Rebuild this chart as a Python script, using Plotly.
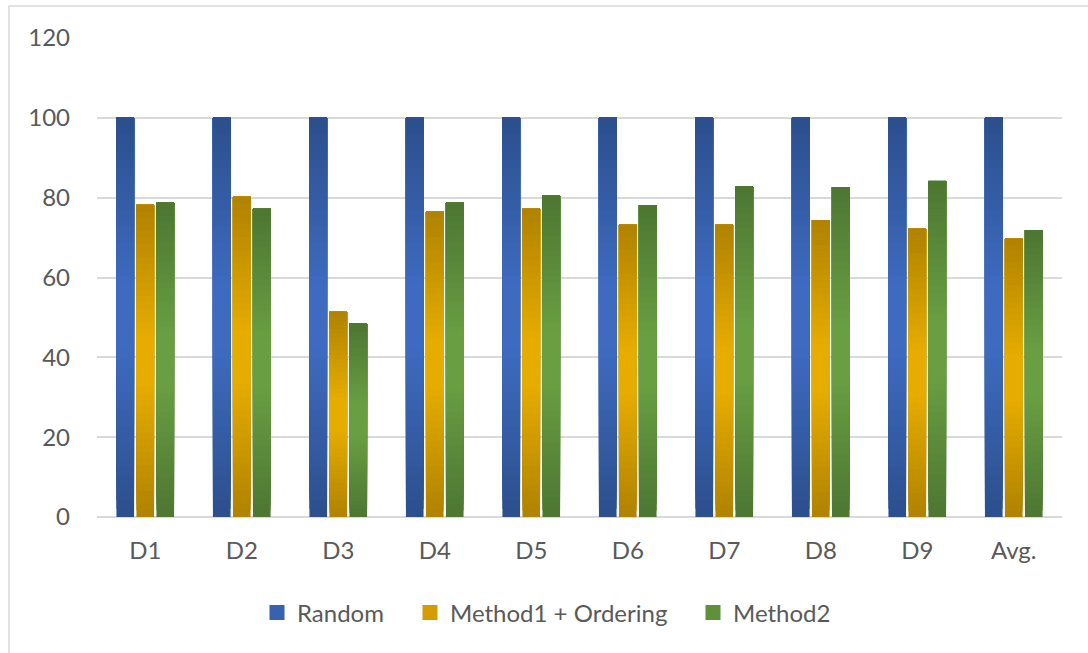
import plotly.graph_objects as go

# Data
categories = ["D1", "D2", "D3", "D4", "D5", "D6", "D7", "D8", "D9", "Avg."]
random_vals = [100, 100, 100, 100, 100, 100, 100, 100, 100, 100]
method1_ordering = [78.2, 80.2, 51.4, 76.5, 77.2, 73.2, 73.2, 74.4, 72.2, 69.7]
method2 = [78.7, 77.2, 48.4, 78.7, 80.5, 78.1, 82.8, 82.6, 84.2, 71.9]
y_ticks = [0, 20, 40, 60, 80, 100, 120]

series = [
    ("Random", random_vals, "#2C4F8C", "#3E6BC0"),
    ("Method1 + Ordering", method1_ordering, "#AF8200", "#E6AC00"),
    ("Method2", method2, "#4D7632", "#699F42"),
]

# left edge (px) of each legend entry, one legend box per series
legend_left_px = [257, 410, 693]

N_STEPS = 48  # vertical shading slices per bar

PLOT_L, PLOT_R, PLOT_T, PLOT_B = 97, 1062, 38, 517
PLOT_W = PLOT_R - PLOT_L
PLOT_H = PLOT_B - PLOT_T


def blend(c1, c2, t):
    a = [int(c1[i:i + 2], 16) for i in (1, 3, 5)]
    b = [int(c2[i:i + 2], 16) for i in (1, 3, 5)]
    return "#" + "".join(f"{round(a[j] + (b[j] - a[j]) * t):02x}" for j in range(3))


def shade(frac, dark, light):
    # dark at both ends of the bar, light band through the middle
    d = abs(frac - 0.5) / 0.5
    d = max(0.0, (d - 0.15) / 0.85)
    return blend(light, dark, d)


fig = go.Figure()
for name, vals, dark, light in series:
    for k in range(N_STEPS):
        frac = (k + 0.5) / N_STEPS
        lo = k / N_STEPS
        fig.add_trace(go.Bar(
            x=categories,
            y=[v * (1 - lo) for v in vals],
            base=[v * lo for v in vals],
            offsetgroup=name,
            name=name,
            legendgroup=name,
            showlegend=False,
            marker=dict(color=shade(frac, dark, light), line=dict(width=0)),
            hoverinfo="skip",
        ))

# Legend swatches (square markers, no data drawn)
legend_ids = ["legend", "legend2", "legend3"]
for (name, vals, dark, light), lid in zip(series, legend_ids):
    fig.add_trace(go.Scatter(
        x=[None],
        y=[None],
        mode="markers",
        name=name,
        legendgroup=name,
        legend=lid,
        marker=dict(symbol="square", size=15, color=blend(light, dark, 0.35)),
        showlegend=True,
    ))

font_family = "Lato, 'Open Sans', sans-serif"
legend_common = dict(
    orientation="h",
    xanchor="left",
    y=-0.2,
    yanchor="middle",
    font=dict(size=24, color="#595959"),
    itemsizing="trace",
    itemwidth=30,
    bgcolor="rgba(0,0,0,0)",
)
legend_layout = {
    lid: dict(legend_common, x=(px - PLOT_L) / PLOT_W)
    for lid, px in zip(legend_ids, legend_left_px)
}

fig.update_layout(
    width=1088,
    height=653,
    margin=dict(l=PLOT_L, r=1088 - PLOT_R, t=PLOT_T, b=653 - PLOT_B),
    paper_bgcolor="white",
    plot_bgcolor="white",
    barmode="group",
    bargap=0.378,
    bargroupgap=0.12,
    font=dict(family=font_family, size=24, color="#595959"),
    showlegend=True,
    xaxis=dict(
        showgrid=False,
        showline=False,
        zeroline=False,
        ticks="",
        ticklabelstandoff=17,
        tickfont=dict(size=24, color="#595959"),
    ),
    yaxis=dict(
        range=[0, 120],
        tickvals=y_ticks,
        showgrid=True,
        gridcolor="#D9D9D9",
        gridwidth=1.5,
        zeroline=True,
        zerolinecolor="#D9D9D9",
        zerolinewidth=1.5,
        showline=False,
        ticks="",
        ticklabelstandoff=26,
        tickfont=dict(size=24, color="#595959"),
    ),
    shapes=[dict(
        type="rect",
        xref="paper",
        yref="paper",
        x0=(9 - PLOT_L) / PLOT_W,
        x1=1.2,
        y0=-0.5,
        y1=1 + (PLOT_T - 6) / PLOT_H,
        line=dict(color="#D9D9D9", width=1.5),
        fillcolor="rgba(0,0,0,0)",
        layer="below",
    )],
    **legend_layout,
)

fig.write_html("out.html")
